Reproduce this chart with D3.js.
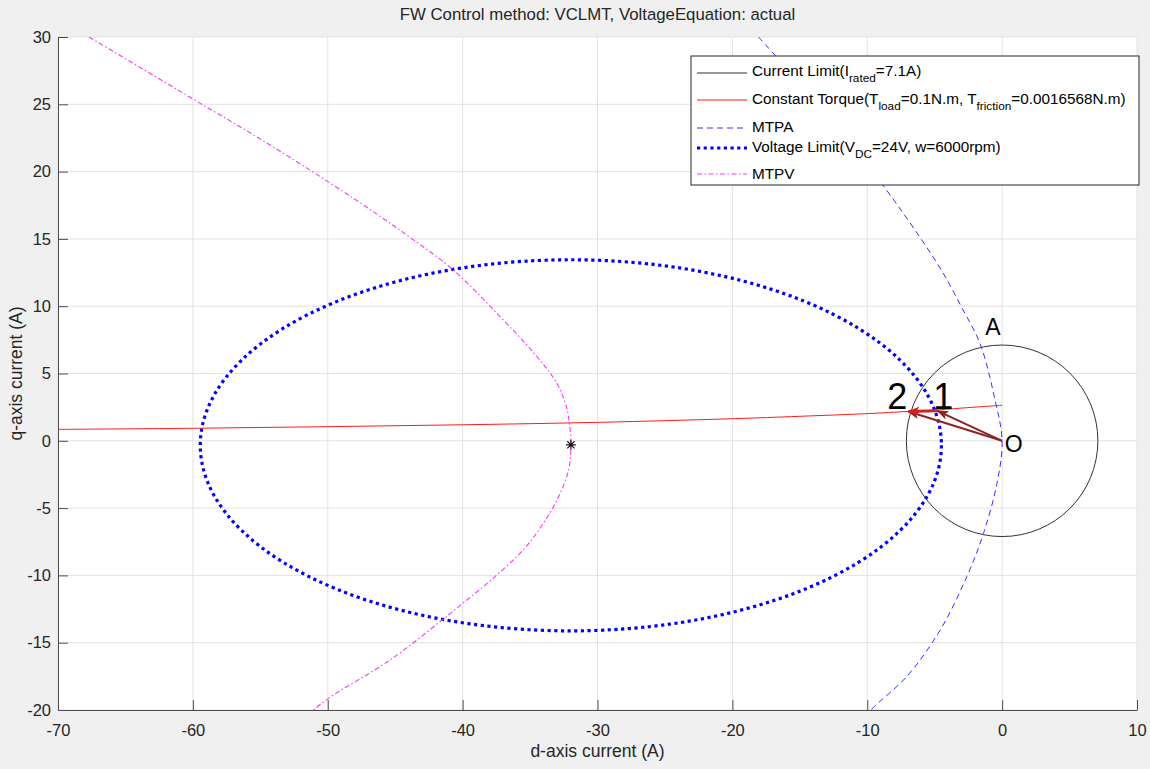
<!DOCTYPE html>
<html>
<head>
<meta charset="utf-8">
<script src="https://cdn.jsdelivr.net/npm/d3@7"></script>
<style>
  html, body { margin: 0; padding: 0; background: #f0f0f0; }
  svg { display: block; font-family: "Liberation Sans", Arial, sans-serif; }
</style>
</head>
<body>
<svg id="chart" width="1150" height="769"></svg>
<script>
// --- data ---
const chartTitle = 'FW Control method: VCLMT, VoltageEquation: actual';
const xTicks = [-70, -60, -50, -40, -30, -20, -10, 0, 10];
const yTicks = [-20, -15, -10, -5, 0, 5, 10, 15, 20, 25, 30];

// current limit circle: centre d, centre q, radius (A)
const currentLimit = [0, 0, 7.1];

// constant torque curve
const torqueId = [-70, -60, -50, -40, -30, -20, -15, -10, -7, -5, -3, 0];
const torqueIq = [0.85, 0.93, 1.05, 1.19, 1.37, 1.64, 1.82, 2.02, 2.18, 2.28, 2.43, 2.64];

// MTPA curve [id, iq]
const mtpaPoints = [
  [-18.06, 30], [-16.8, 28.6], [-12.5, 23.8], [-8.55, 18.6], [-6.08, 15.1], [-4.4, 12.5],
  [-2.99, 9.9], [-1.63, 7.2], [-0.52, 3.0], [0, 0], [-0.39, -3.2], [-1.39, -6.9],
  [-2.62, -10.1], [-4.6, -14.07], [-7.06, -17.5], [-9.54, -19.8], [-9.7, -20]
];

// voltage limit ellipse extents
const voltageLimit = { dMin: -59.45, dMax: -4.5, qMin: -14.12, qMax: 13.45 };

// MTPV curve [id, iq]
const mtpvPoints = [
  [-67.7, 30], [-60, 25.4], [-54.8, 22.3], [-49.9, 19.2], [-46.3, 16.8], [-43.6, 14.9],
  [-40.7, 12.7], [-37.2, 9.2], [-34.7, 6.5], [-33.0, 4.25], [-32.3, 2.5], [-32.05, 1.0],
  [-31.97, -0.3], [-32.15, -2.2], [-33.0, -4.4], [-34.2, -6.4], [-35.5, -8.1],
  [-37.95, -10.4], [-39.9, -12.0], [-41.5, -13.3], [-45.4, -16.3], [-49.9, -19.1], [-51.05, -20]
];
const mtpvVertex = [-31.97, -0.3];

// operating points
const origin = [0, 0];
const point1 = [-4.8, 2.23];
const point2 = [-6.95, 2.18];

// text annotations [label, id, iq, font size]
const annotations = [
  ['2', -8.52, 2.34, 36],
  ['1', -5.11, 2.34, 36],
  ['A', -1.26, 7.83, 23],
  ['O', 0.2, -0.85, 23]
];

// --- layout ---
const plot = { left: 58, right: 1137, top: 37, bottom: 710 };
const axisColor = '#4d4d4d';
const textColor = '#262626';

const svg = d3.select('#chart');

const x = d3.scaleLinear().domain([-70, 10]).range([plot.left, plot.right]);
const y = d3.scaleLinear().domain([-20, 30]).range([plot.bottom, plot.top]);

svg.append('rect')
  .attr('x', plot.left).attr('y', plot.top)
  .attr('width', plot.right - plot.left).attr('height', plot.bottom - plot.top)
  .attr('fill', '#fff');

svg.append('defs').append('clipPath').attr('id', 'plotClip')
  .append('rect')
  .attr('x', plot.left).attr('y', plot.top)
  .attr('width', plot.right - plot.left).attr('height', plot.bottom - plot.top);

// --- grid ---
const grid = svg.append('g').attr('stroke', '#e3e3e3').attr('stroke-width', 1);
grid.selectAll('.gx').data(xTicks).enter().append('line')
  .attr('x1', d => x(d)).attr('x2', d => x(d))
  .attr('y1', plot.top).attr('y2', plot.bottom);
grid.selectAll('.gy').data(yTicks).enter().append('line')
  .attr('x1', plot.left).attr('x2', plot.right)
  .attr('y1', d => y(d)).attr('y2', d => y(d));

// --- axes ---
const plainFormat = d => String(d); // hyphen-minus like the original
const xAxis = svg.append('g')
  .attr('transform', `translate(0,${plot.bottom})`)
  .call(d3.axisBottom(x).tickValues(xTicks).tickFormat(plainFormat)
    .tickSizeInner(-10).tickSizeOuter(0).tickPadding(14));
const yAxis = svg.append('g')
  .attr('transform', `translate(${plot.left},0)`)
  .call(d3.axisLeft(y).tickValues(yTicks).tickFormat(plainFormat)
    .tickSizeInner(-10).tickSizeOuter(0).tickPadding(7));

[xAxis, yAxis].forEach(ax => {
  ax.select('.domain').attr('stroke', axisColor);
  ax.selectAll('.tick line').attr('stroke', axisColor);
  ax.selectAll('.tick text')
    .attr('fill', textColor)
    .style('font-size', '16.5px')
    .style('font-family', '"Liberation Sans", Arial, sans-serif');
});

svg.append('text')
  .attr('x', (plot.left + plot.right) / 2).attr('y', 757)
  .attr('text-anchor', 'middle').attr('fill', textColor)
  .style('font-size', '17.5px')
  .text('d-axis current (A)');

svg.append('text')
  .attr('transform', `translate(22,${(plot.top + plot.bottom) / 2}) rotate(-90)`)
  .attr('text-anchor', 'middle').attr('fill', textColor)
  .style('font-size', '17.5px')
  .text('q-axis current (A)');

svg.append('text')
  .attr('x', (plot.left + plot.right) / 2).attr('y', 20)
  .attr('text-anchor', 'middle').attr('fill', textColor)
  .style('font-size', '16.8px')
  .text(chartTitle);

// --- curves ---
const curves = svg.append('g').attr('clip-path', 'url(#plotClip)');
const line = d3.line().x(d => x(d[0])).y(d => y(d[1])).curve(d3.curveCatmullRom);

// voltage limit
const vcx = (voltageLimit.dMin + voltageLimit.dMax) / 2;
const vcy = (voltageLimit.qMin + voltageLimit.qMax) / 2;
curves.append('ellipse')
  .attr('cx', x(vcx)).attr('cy', y(vcy))
  .attr('rx', x(voltageLimit.dMax) - x(vcx))
  .attr('ry', y(voltageLimit.qMin) - y(vcy))
  .attr('fill', 'none')
  .attr('stroke', '#0000ff')
  .attr('stroke-width', 3.2)
  .attr('stroke-dasharray', '3.2 3.5');

// current limit
curves.append('circle')
  .attr('cx', x(currentLimit[0])).attr('cy', y(currentLimit[1]))
  .attr('r', x(currentLimit[2]) - x(0))
  .attr('fill', 'none')
  .attr('stroke', '#333')
  .attr('stroke-width', 1);

// constant torque
curves.append('path')
  .datum(torqueId.map((d, i) => [d, torqueIq[i]]))
  .attr('d', line)
  .attr('fill', 'none')
  .attr('stroke', '#ff1a1a')
  .attr('stroke-width', 1);

// MTPA
curves.append('path')
  .datum(mtpaPoints)
  .attr('d', line)
  .attr('fill', 'none')
  .attr('stroke', '#3333ff')
  .attr('stroke-width', 1)
  .attr('stroke-dasharray', '6 4');

// MTPV
curves.append('path')
  .datum(mtpvPoints)
  .attr('d', line)
  .attr('fill', 'none')
  .attr('stroke', '#ff33ff')
  .attr('stroke-width', 1.1)
  .attr('stroke-dasharray', '5 2.5 1.5 2.5');

// asterisk at MTPV vertex
const ax0 = x(mtpvVertex[0]), ay0 = y(mtpvVertex[1]), s = 5;
curves.append('path')
  .attr('d', `M${ax0 - s},${ay0}L${ax0 + s},${ay0}M${ax0},${ay0 - s}L${ax0},${ay0 + s}` +
    `M${ax0 - s * 0.72},${ay0 - s * 0.72}L${ax0 + s * 0.72},${ay0 + s * 0.72}` +
    `M${ax0 - s * 0.72},${ay0 + s * 0.72}L${ax0 + s * 0.72},${ay0 - s * 0.72}`)
  .attr('stroke', '#111')
  .attr('stroke-width', 1.1);

// --- arrows ---
const defs = svg.select('defs');
function addHead(id, color) {
  defs.append('marker')
    .attr('id', id)
    .attr('markerUnits', 'userSpaceOnUse')
    .attr('viewBox', '0 0 12 10')
    .attr('refX', 11).attr('refY', 5)
    .attr('markerWidth', 12).attr('markerHeight', 10)
    .attr('orient', 'auto')
    .append('path')
    .attr('d', 'M0,0.5L12,5L0,9.5L3,5Z')
    .attr('fill', color);
}
addHead('headDark', '#8e2323');
addHead('headRed', '#d42020');

const arrows = svg.append('g');
[point1, point2].forEach(p => {
  arrows.append('line')
    .attr('x1', x(origin[0])).attr('y1', y(origin[1]))
    .attr('x2', x(p[0])).attr('y2', y(p[1]))
    .attr('stroke', '#8e2323')
    .attr('stroke-width', 2)
    .attr('marker-end', 'url(#headDark)');
});
arrows.append('line')
  .attr('x1', x(point1[0])).attr('y1', y(point1[1]))
  .attr('x2', x(point2[0])).attr('y2', y(point2[1]))
  .attr('stroke', '#d42020')
  .attr('stroke-width', 3)
  .attr('marker-end', 'url(#headRed)');

// --- annotations ---
svg.append('g').selectAll('text')
  .data(annotations).enter().append('text')
  .attr('x', d => x(d[1])).attr('y', d => y(d[2]))
  .attr('fill', '#000')
  .style('font-size', d => d[3] + 'px')
  .text(d => d[0]);

// --- legend ---
const legend = svg.append('g');
legend.append('rect')
  .attr('x', 691).attr('y', 56).attr('width', 448).attr('height', 129)
  .attr('fill', '#fff').attr('stroke', '#262626').attr('stroke-width', 1);

const legendRows = [
  { y: 73, base: 76, stroke: '#333', w: 1, dash: null,
    parts: [['Current Limit(I', 0], ['rated', 1], ['=7.1A)', 0]] },
  { y: 100, base: 104, stroke: '#ff1a1a', w: 1, dash: null,
    parts: [['Constant Torque(T', 0], ['load', 1], ['=0.1N.m, T', 0], ['friction', 1], ['=0.0016568N.m)', 0]] },
  { y: 128, base: 132, stroke: '#3333ff', w: 1, dash: '6 4', parts: [['MTPA', 0]] },
  { y: 148, base: 152, stroke: '#0000ff', w: 3.2, dash: '3.2 3.5',
    parts: [['Voltage Limit(V', 0], ['DC', 1], ['=24V, w=6000rpm)', 0]] },
  { y: 174, base: 179, stroke: '#ff33ff', w: 1.1, dash: '5 2.5 1.5 2.5', parts: [['MTPV', 0]] }
];

legendRows.forEach(r => {
  legend.append('line')
    .attr('x1', 697).attr('x2', 747)
    .attr('y1', r.y).attr('y2', r.y)
    .attr('stroke', r.stroke)
    .attr('stroke-width', r.w)
    .attr('stroke-dasharray', r.dash);
  const t = legend.append('text')
    .attr('x', 752).attr('y', r.base)
    .attr('fill', '#000')
    .style('font-size', '15.3px');
  r.parts.forEach(p => {
    t.append('tspan')
      .attr('y', p[1] ? r.base + 6 : r.base)
      .style('font-size', p[1] ? '11.8px' : '15.3px')
      .text(p[0]);
  });
});
</script>
</body>
</html>
